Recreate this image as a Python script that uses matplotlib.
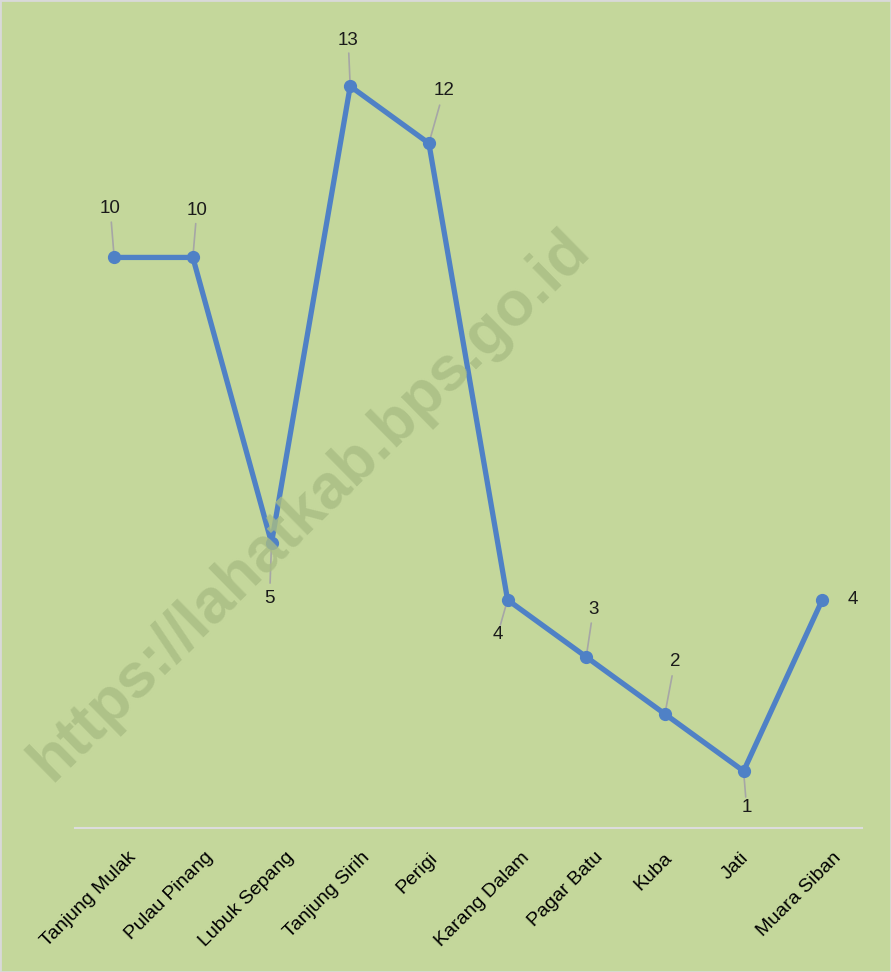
import matplotlib.pyplot as plt
import matplotlib.transforms as mtransforms

plt.rcParams['font.family'] = ['Liberation Sans', 'DejaVu Sans']

desa = ['Tanjung Mulak', 'Pulau Pinang', 'Lubuk Sepang', 'Tanjung Sirih', 'Perigi',
        'Karang Dalam', 'Pagar Batu', 'Kuba', 'Jati', 'Muara Siban']
jumlah = [10, 10, 5, 13, 12, 4, 3, 2, 1, 4]

# label offsets in pixels (dx, dy) from each point, Excel-style placement
label_off = [(-4, 49), (4, 47), (-2, -56), (-2, 46), (15, 53),
             (-10, -35), (7, 47), (10, 53), (3, -36), (31, 0)]

bg = '#c4d79b'
line_color = '#4f81c6'

fig = plt.figure(figsize=(8.91, 9.72), dpi=100, facecolor=bg)
ax = fig.add_axes([0.084, 0.148, 0.883, 0.822])
ax.set_facecolor(bg)

x = list(range(len(desa)))
ax.plot(x, jumlah, color=line_color, lw=3.8, marker='o', ms=8.5,
        solid_joinstyle='round', zorder=3)

for xi, yi, (dx, dy) in zip(x, jumlah, label_off):
    ax.annotate(str(yi), xy=(xi, yi), xytext=(dx * 0.72, dy * 0.72),
                textcoords='offset points', ha='center', va='center',
                fontsize=13.5, color='#1a1a1a', zorder=4)
    if abs(dx) < 20:
        # thin gray leader line from point toward the label
        ax.annotate('', xy=(xi, yi), xytext=(dx * 0.72 * 0.72, dy * 0.72 * 0.72),
                    textcoords='offset points',
                    arrowprops=dict(arrowstyle='-', color='#a6a6a6', lw=1.2,
                                    shrinkA=0, shrinkB=0), zorder=2)

ax.set_xlim(-0.5, len(desa) - 0.5)
ax.set_ylim(0, 14)
ax.set_yticks([])
ax.set_xticks(x)
ax.set_xticklabels(desa, rotation=45, ha='right', va='top', fontsize=14)
ax.tick_params(axis='x', length=0, pad=15)
for s in ['top', 'right', 'left']:
    ax.spines[s].set_visible(False)
ax.spines['bottom'].set_color('#dcdcdc')
ax.spines['bottom'].set_linewidth(1.5)

# watermark
fig.text(0.348, 0.48, 'https://lahatkab.bps.go.id', rotation=44.5,
         fontsize=45, fontweight='bold', color='#a9bd84', alpha=0.8,
         ha='center', va='center', zorder=1)

# shift tick labels right in proportion to their width (Excel anchoring)
fig.canvas.draw()
r = fig.canvas.get_renderer()
for lab in ax.get_xticklabels():
    w = lab.get_window_extent(r).width
    off = mtransforms.ScaledTranslation(0.25 * w / 100, 0, fig.dpi_scale_trans)
    lab.set_transform(lab.get_transform() + off)

# thin border like the screenshot
fig.add_artist(plt.Rectangle((0, 0), 1, 1, transform=fig.transFigure,
                             fill=False, edgecolor='#d9d9d9', lw=2))

fig.savefig('out.png', dpi=100, facecolor=bg)
